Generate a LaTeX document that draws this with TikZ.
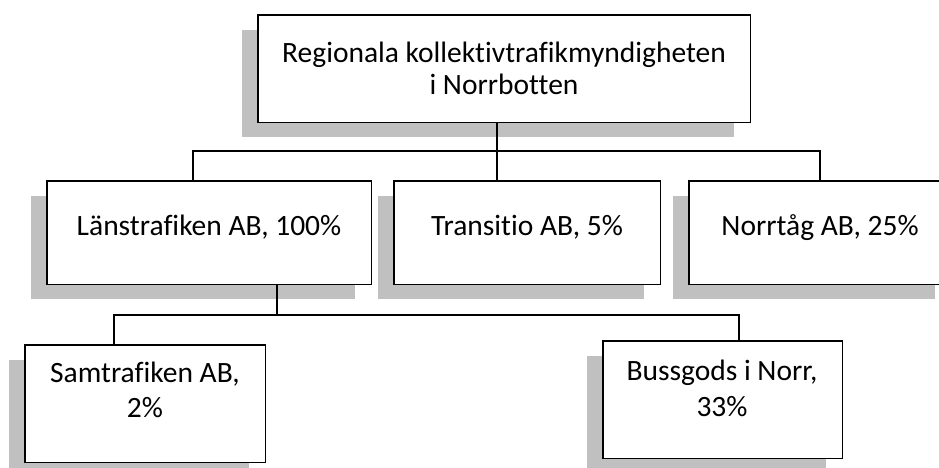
\documentclass[tikz,border=0pt]{standalone}
\usepackage{fontspec}
\setmainfont{Carlito}[Ligatures={NoCommon}]
\usetikzlibrary{calc}
\definecolor{shadowgray}{HTML}{C0C0C0}
\tikzset{
  orgbox/.style={draw=none, fill=none, rectangle, inner sep=0pt, anchor=north west},
  orgtext/.style={inner sep=0pt, align=center, font=\fontsize{29.5}{34}\selectfont, anchor=base},
  conn/.style={draw=black, line width=1.2pt},
  frame/.style={draw=black, line width=1.4pt, fill=white},
}
\newcommand{\shadowof}[1]{\fill[shadowgray] ($(#1.south west)+(-16,15)$) rectangle ($(#1.north east)+(-16,15)$);}
\newcommand{\frameof}[1]{\draw[frame] (#1.north west) rectangle (#1.south east);}
\begin{document}
\begin{tikzpicture}[x=1pt, y=-1pt]
\useasboundingbox (0,0) rectangle (939,468);
% box geometry
\path (258,15) node[orgbox, minimum width=492pt, minimum height=107pt] (top) {};
\path (47,181) node[orgbox, minimum width=324pt, minimum height=103pt] (lan) {};
\path (394,181) node[orgbox, minimum width=266pt, minimum height=103pt] (tra) {};
\path (689,181) node[orgbox, minimum width=262pt, minimum height=103pt] (nor) {};
\path (25,345) node[orgbox, minimum width=240pt, minimum height=117pt] (sam) {};
\path (603,341) node[orgbox, minimum width=239pt, minimum height=117pt] (bus) {};
% shadows
\shadowof{top}
\shadowof{lan}
\shadowof{tra}
\shadowof{nor}
\shadowof{sam}
\shadowof{bus}
% visible boxes
\frameof{top}
\frameof{lan}
\frameof{tra}
\frameof{nor}
\frameof{sam}
\frameof{bus}
% texts
\node[orgtext, font=\fontsize{29.5}{32}\selectfont] (ttop) at (504,95) {Regionala kollektivtrafikmyndigheten\\i Norrbotten};
\node[orgtext] (tlan) at (209,235) {Länstrafiken AB, 100\%};
\node[orgtext] (ttra) at (527,235) {Transitio AB, 5\%};
\node[orgtext] (tnor) at (820,235) {Norrtåg AB, 25\%};
\node[orgtext, font=\fontsize{29.5}{35}\selectfont] (tsam) at (145,417) {Samtrafiken AB,\\2\%};
\node[orgtext, font=\fontsize{29.5}{36}\selectfont] (tbus) at (722,416) {Bussgods i Norr,\\33\%};
% connectors
\coordinate (h1m) at (497,151);
\coordinate (h1l) at (193,151);
\coordinate (h1r) at (820,151);
\draw[conn] (top.south -| h1m) -- (h1m);
\draw[conn] (lan.north -| h1l) -- (h1l) -- (h1r) -- (nor.north -| h1r);
\draw[conn] (h1m) -- (tra.north -| h1m);
\coordinate (h2m) at (277,315);
\coordinate (h2l) at (114,315);
\coordinate (h2r) at (739,315);
\draw[conn] (lan.south -| h2m) -- (h2m);
\draw[conn] (sam.north -| h2l) -- (h2l) -- (h2r) -- (bus.north -| h2r);
\end{tikzpicture}
\end{document}
